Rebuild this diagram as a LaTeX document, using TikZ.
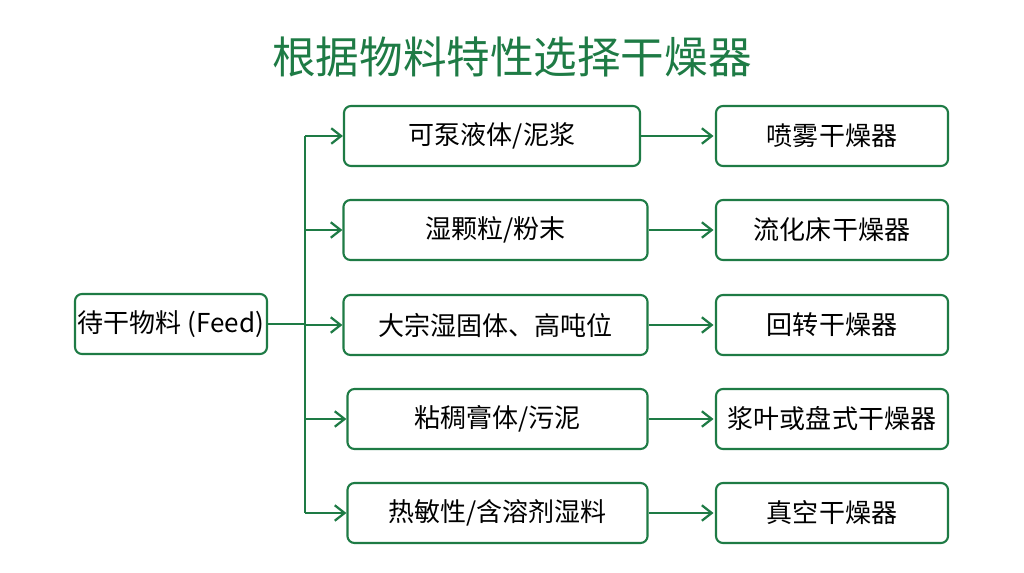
\documentclass[tikz,border=0pt]{standalone}
\usepackage{fontspec}
\setmainfont{Noto Sans CJK SC}
\definecolor{VertProfond}{HTML}{1E7B45}
\usetikzlibrary{arrows.meta,positioning}
\tikzset{
    boite/.style={draw=VertProfond, line width=1.5pt, rounded corners=5pt, fill=white,
        minimum height=1.5cm, inner sep=2pt, font=\fontsize{18.5}{22}\selectfont},
    fleche/.style={draw=VertProfond, line width=1.6pt, arrows={-Straight Barb[length=7pt, width=11pt]}}
}
\begin{document}
\begin{tikzpicture}[x=0.025cm, y=-0.025cm]
    \useasboundingbox (0,0) rectangle (1024,572);
    \node[text=VertProfond, font=\fontsize{31}{36}\selectfont] (titre) at (512,57) {根据物料特性选择干燥器};
    % alimentation
    \node[boite, minimum width=4.8cm] (feed) at (171,324) {待干物料 (Feed)};
    \coordinate (branche) at (305,324);
    \draw[VertProfond, line width=1.6pt] (feed.east) -- (branche);
    % matieres et secheurs
    \foreach \nom/\mat/\xm/\wm/\yy/\sech in {
        a/{可泵液体/泥浆}/492/7.4/136/喷雾干燥器,
        b/{湿颗粒/粉末}/495.5/7.6/230/流化床干燥器,
        c/{大宗湿固体、高吨位}/495.5/7.6/325/回转干燥器,
        d/{粘稠膏体/污泥}/497.5/7.5/419/浆叶或盘式干燥器,
        e/{热敏性/含溶剂湿料}/497.5/7.5/513/真空干燥器} {
        \node[boite, minimum width=\wm cm] (m\nom) at (\xm,\yy) {\mat};
        \node[boite, minimum width=5.8cm] (s\nom) at (832,\yy) {\sech};
        \coordinate (j\nom) at (305,\yy);
        \draw[fleche] (j\nom) -- (m\nom.west);
        \draw[fleche] (m\nom.east) -- ([xshift=-1pt]s\nom.west);
    }
    \draw[VertProfond, line width=1.6pt] (ja) -- (je);
\end{tikzpicture}
\end{document}
